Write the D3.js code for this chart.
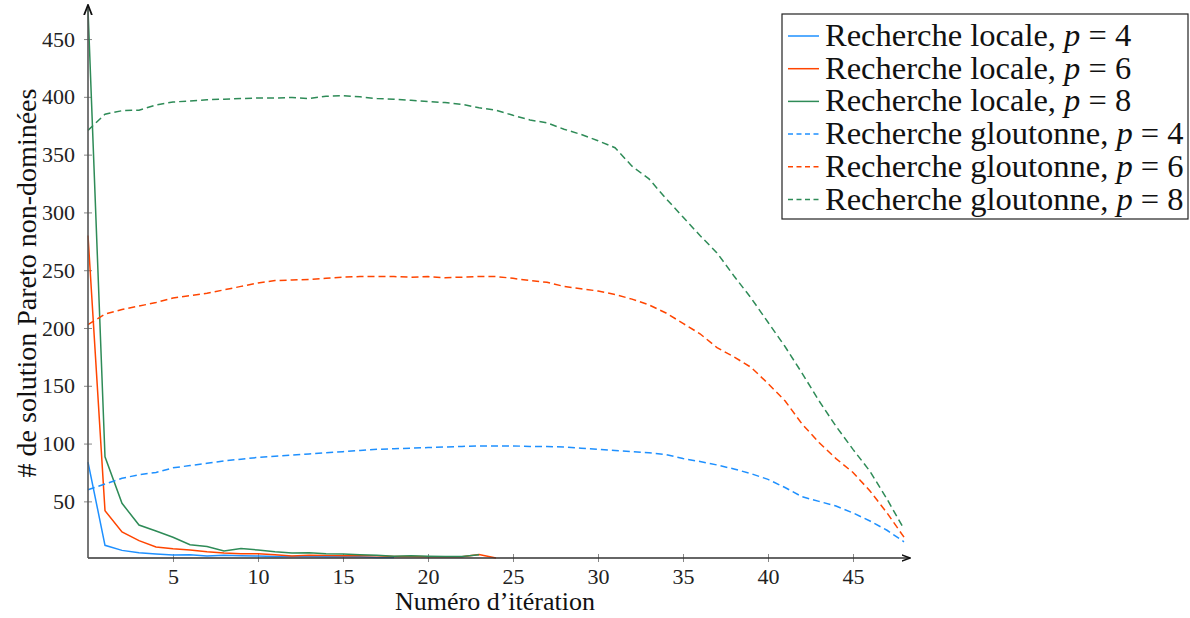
<!DOCTYPE html>
<html>
<head>
<meta charset="utf-8">
<script src="https://cdn.jsdelivr.net/npm/d3@7"></script>
<style>
  body { margin: 0; background: #fff; }
  svg { font-family: "Liberation Serif", "DejaVu Serif", serif; }
</style>
</head>
<body>
<div id="chart"></div>
<script>
// values, index = iteration number
var localP4 = [84, 12, 7.6, 5.6, 4.4, 3.5, 3.8, 2.7, 3.3, 3, 2.7, 2.3, 2.2, 2.2, 2, 2, 2, 1.5, 1.5];
var localP6 = [280, 42, 23.5, 16, 10.5, 9, 8, 6.4, 5.3, 4.7, 4.7, 3.8, 2.7, 3.3, 3.2, 3, 3, 3, 2.2, 2.2, 2, 2, 2, 4, 1];
var localP8 = [476, 88.5, 48.3, 29.5, 24.3, 18.9, 12.5, 11, 7, 9.3, 7.9, 6.4, 5.3, 5.5, 4.7, 4.4, 3.8, 3.4, 2.5, 3, 2.6, 2.2, 2.4, 3.8];
var greedyP4 = [60, 65, 70, 73, 75, 79, 81, 83, 85, 86.5, 88, 89, 90, 91, 92, 93, 94, 95, 95.5, 96, 96.5, 97, 97.5, 98, 98,
                98, 97.5, 97.5, 97, 96, 95, 94, 93, 92, 90.5, 87, 84.5, 81.5, 78, 74, 69, 62, 54, 50, 46, 40, 33, 25, 15];
var greedyP6 = [203, 212, 216, 219, 222, 226, 228, 230, 233, 236, 239, 241, 241.5, 242, 243, 244, 244.5, 244.5, 244.5, 244, 244.5, 243.5, 244, 244.5, 244.5,
                243, 241, 239.5, 236, 234, 232, 229, 225, 220, 213, 204, 195, 183, 175, 166, 152, 137, 117, 101, 87, 75, 59, 40, 19];
var greedyP8 = [371, 385, 388, 388.5, 393, 395.5, 396.5, 397.5, 398, 398.5, 399, 399, 399.5, 398.5, 400.5, 401, 400, 398.5, 398, 397, 396, 395, 393.5, 390.5, 388.5,
                384, 380, 377.5, 372, 367.5, 362, 356, 340, 329, 312, 296, 280, 265, 245, 226, 205, 184, 161, 137, 115, 95, 76, 52, 26];

var seriesNames = ["Recherche locale, ", "Recherche locale, ", "Recherche locale, ",
                   "Recherche gloutonne, ", "Recherche gloutonne, ", "Recherche gloutonne, "];
var seriesP = [4, 6, 8, 4, 6, 8];
var seriesValues = [localP4, localP6, localP8, greedyP4, greedyP6, greedyP8];
var seriesColors = ["#1e90ff", "#ff4500", "#2e8b57", "#1e90ff", "#ff4500", "#2e8b57"];
var seriesDashed = [false, false, false, true, true, true];

var xTicks = [5, 10, 15, 20, 25, 30, 35, 40, 45];
var yTicks = [50, 100, 150, 200, 250, 300, 350, 400, 450];
var xTitle = "Numéro d’itération";
var yTitle = "# de solution Pareto non-dominées";

var W = 1190, H = 618;
var mLeft = 88, mRight = 904, mTop = 9, mBottom = 558;

var svg = d3.select("#chart").append("svg")
    .attr("width", W).attr("height", H);

var x = d3.scaleLinear().domain([0, 48]).range([mLeft, mRight]);
var y = d3.scaleLinear().domain([1, 476]).range([mBottom, mTop]);

// ticks (crossing the axis lines)
var gX = svg.append("g").attr("transform", "translate(0," + mBottom + ")")
    .call(d3.axisBottom(x).tickValues(xTicks).tickSizeInner(4).tickSizeOuter(0).tickPadding(6));
gX.selectAll(".tick line").attr("y1", -4).attr("stroke", "#888");
var gY = svg.append("g").attr("transform", "translate(" + mLeft + ",0)")
    .call(d3.axisLeft(y).tickValues(yTicks).tickSizeInner(4).tickSizeOuter(0).tickPadding(9));
gY.selectAll(".tick line").attr("x1", 4).attr("stroke", "#888");
svg.selectAll(".domain").remove();
svg.selectAll(".tick text").attr("font-size", 22).attr("fill", "#222")
    .attr("font-family", "Liberation Serif, serif");

// data lines
var line = d3.line()
    .x(function(d, i) { return x(i); })
    .y(function(d) { return y(d); });

svg.append("g").selectAll("path")
    .data(seriesValues)
    .enter().append("path")
    .attr("d", line)
    .attr("fill", "none")
    .attr("stroke", function(d, i) { return seriesColors[i]; })
    .attr("stroke-width", 1.5)
    .attr("stroke-dasharray", function(d, i) { return seriesDashed[i] ? "7,4" : null; });

// axis lines with arrows
var defs = svg.append("defs");
defs.append("marker").attr("id", "arr")
    .attr("viewBox", "0 0 10 10").attr("refX", 9).attr("refY", 5)
    .attr("markerWidth", 7).attr("markerHeight", 7).attr("orient", "auto")
  .append("path").attr("d", "M0,1.5 L9,5 L0,8.5").attr("fill", "none").attr("stroke", "#111").attr("stroke-width", 1.6);

svg.append("line").attr("x1", mLeft).attr("x2", mRight + 6).attr("y1", mBottom).attr("y2", mBottom)
    .attr("stroke", "#333").attr("stroke-width", 1.3).attr("marker-end", "url(#arr)");
svg.append("line").attr("x1", mLeft).attr("x2", mLeft).attr("y1", mBottom).attr("y2", mTop - 4)
    .attr("stroke", "#555").attr("stroke-width", 1.6).attr("marker-end", "url(#arr)");

// axis titles
svg.append("text").attr("x", 495).attr("y", 610)
    .attr("text-anchor", "middle").attr("font-size", 26).attr("fill", "#111")
    .text(xTitle);
svg.append("text").attr("transform", "translate(36," + 283 + ") rotate(-90)")
    .attr("text-anchor", "middle").attr("font-size", 28).attr("fill", "#111")
    .text(yTitle);

// legend
var lg = svg.append("g").attr("transform", "translate(782,14)");
lg.append("rect").attr("x", 0).attr("y", 0).attr("width", 406).attr("height", 205)
    .attr("fill", "#fff").attr("stroke", "#222").attr("stroke-width", 1.2);
var rows = lg.selectAll("g.row").data(seriesNames).enter().append("g")
    .attr("class", "row")
    .attr("transform", function(d, i) { return "translate(0," + (22 + i * 32.7) + ")"; });
rows.append("line").attr("x1", 6).attr("x2", 37).attr("y1", 0).attr("y2", 0)
    .attr("stroke", function(d, i) { return seriesColors[i]; })
    .attr("stroke-width", 1.5)
    .attr("stroke-dasharray", function(d, i) { return seriesDashed[i] ? "5,3.5" : null; });
var txt = rows.append("text").attr("x", 43).attr("y", 10)
    .attr("font-size", 32.5).attr("fill", "#111");
txt.append("tspan").text(function(d) { return d; });
txt.append("tspan").attr("font-style", "italic").text("p");
txt.append("tspan").text(function(d, i) { return " = " + seriesP[i]; });
</script>
</body>
</html>
